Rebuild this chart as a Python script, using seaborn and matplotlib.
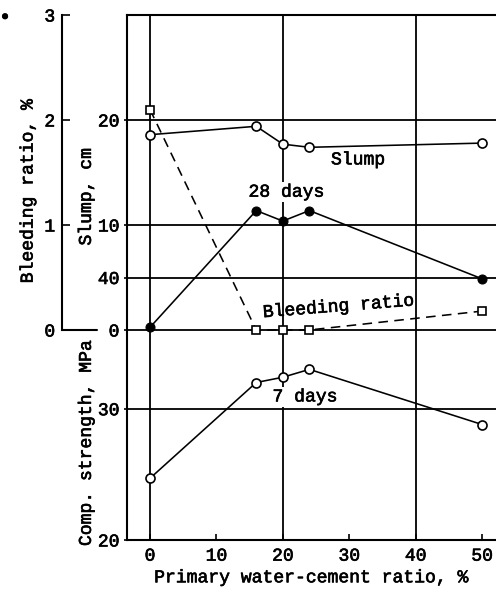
import matplotlib
matplotlib.use("Agg")
import matplotlib.pyplot as plt
import matplotlib.patheffects as pe
import matplotlib.text as mtext
import seaborn as sns
import pandas as pd

# values
ratio = [0, 16, 20, 24, 50]
slump_cm = [18.6, 19.4, 17.7, 17.4, 17.8]
bleeding_pct = [2.1, 0.0, 0.0, 0.0, 0.18]
strength_28d = [36.2, 45.1, 44.3, 45.1, 39.9]
strength_7d = [24.7, 32.0, 32.4, 33.0, 28.8]

x_ticks = [0, 10, 20, 30, 40, 50]
x_grid = [0, 20, 40]
strength_ticks = [20, 30, 40]
strength_grid = [30, 40]
slump_ticks = [0, 10, 20]
bleeding_ticks = [0, 1, 2, 3]

df = pd.DataFrame({
    "ratio": ratio,
    "slump": slump_cm,
    "bleeding": bleeding_pct,
    "s28": strength_28d,
    "s7": strength_7d,
})

sns.set_theme(style="white")
plt.rcParams["font.family"] = ["Liberation Mono", "DejaVu Sans Mono"]
fs = 13
plt.rcParams.update({"font.size": fs, "axes.labelsize": fs,
                     "xtick.labelsize": fs, "ytick.labelsize": fs})

fig = plt.figure(figsize=(4.96, 5.90), dpi=100)
ax = fig.add_axes([127 / 496, 50 / 590, 369 / 496, 525 / 590])
ax_s = ax.twinx()
ax_b = ax.twinx()

line_kw = dict(color="black", linewidth=1.15, legend=False)
open_o = dict(marker="o", markersize=6.5, markerfacecolor="white",
              markeredgecolor="black", markeredgewidth=1.2)

# strength (main axis)
sns.lineplot(data=df, x="ratio", y="s28", ax=ax, marker="o", markersize=6.5,
             markerfacecolor="black", markeredgecolor="black", zorder=4, **line_kw)
sns.lineplot(data=df, x="ratio", y="s7", ax=ax, zorder=4, **open_o, **line_kw)
# slump
sns.lineplot(data=df, x="ratio", y="slump", ax=ax_s, zorder=4, **open_o, **line_kw)
# bleeding
sns.lineplot(data=df, x="ratio", y="bleeding", ax=ax_b, marker="s", markersize=5.5,
             markerfacecolor="white", markeredgecolor="black", markeredgewidth=1.2,
             linestyle=(0, (6, 4)), zorder=4, **line_kw)

ax.set_xlim(-3.46, 52.1)
ax.set_ylim(20, 60)
ax_s.set_ylim(-20, 30)
ax_b.set_ylim(-2, 3)

# grid lines
for xv in x_grid:
    ax.axvline(xv, color="black", linewidth=1.3, zorder=1)
for yv in strength_grid:
    ax.axhline(yv, color="black", linewidth=1.3, zorder=1)
for yv in slump_ticks:
    ax_s.axhline(yv, color="black", linewidth=1.3, zorder=1)

# spines
for a in (ax, ax_s, ax_b):
    a.spines["right"].set_visible(False)
for side in ("top", "bottom", "left"):
    ax_s.spines[side].set_visible(False)
    if side != "left":
        ax_b.spines[side].set_visible(False)
for side in ("top", "bottom", "left"):
    ax.spines[side].set_color("black")
    ax.spines[side].set_linewidth(1.5)

# x axis
ax.set_xticks(x_ticks)
ax.tick_params(axis="x", direction="in", length=4, width=1.2, pad=5.5,
               colors="black", bottom=True, top=False)
ax.set_xlabel("Primary water-cement ratio, %", color="black")
ax.xaxis.set_label_coords(0.496, -0.072)
ax.xaxis.label.set_va("center")

# strength axis
ax.set_yticks(strength_ticks)
ax.tick_params(axis="y", direction="out", length=2.5, width=1.2, pad=3,
               colors="black", left=True)
ax.set_ylabel("Comp. strength, MPa", color="black")
ax.yaxis.set_label_coords(-0.11, 0.183)
ax.yaxis.label.set_va("center")

# slump axis, ticks on the left side of the main frame
ax_s.yaxis.set_ticks_position("left")
ax_s.yaxis.set_label_position("left")
ax_s.set_yticks(slump_ticks)
ax_s.tick_params(axis="y", direction="out", length=2.5, width=1.2, pad=3,
                 colors="black", left=True, right=False)
ax_s.set_ylabel("Slump, cm", color="black")
ax_s.yaxis.set_label_coords(-0.11, 0.653)
ax_s.yaxis.label.set_va("center")

# bleeding axis, detached to the left
ax_b.yaxis.set_ticks_position("left")
ax_b.yaxis.set_label_position("left")
ax_b.spines["left"].set_position(("axes", -0.176))
ax_b.spines["left"].set_bounds(0, 3)
ax_b.spines["left"].set_color("black")
ax_b.spines["left"].set_linewidth(1.5)
ax_b.set_yticks(bleeding_ticks)
ax_b.tick_params(axis="y", direction="in", length=6, width=1.2, pad=5,
                 colors="black", left=True, right=False)
ax_b.axhline(0, xmin=-0.176, xmax=-0.081, color="black", linewidth=1.5, clip_on=False)
ax_b.set_ylabel("Bleeding ratio, %", color="black")
ax_b.yaxis.set_label_coords(-0.268, 0.663)
ax_b.yaxis.label.set_va("center")

# in-plot labels (the day labels blank out the grid line behind them)
white_box = dict(facecolor="white", edgecolor="none", pad=1.0)
ax_s.text(31.3, 16.2, "Slump", ha="center", va="center", color="black")
ax.text(20.5, 46.5, "28 days", ha="center", va="center", color="black",
        bbox=white_box)
ax_b.text(28.3, 0.22, "Bleeding ratio", ha="center", va="center", rotation=4.5,
          color="black")
ax.text(23.3, 30.9, "7 days", ha="center", va="center", color="black",
        bbox=white_box)

fig.text(5 / 496, 1 - 18 / 590, "•", ha="center", va="center", fontsize=14,
         color="black", family="DejaVu Sans")

# thicken the thin typewriter strokes a little, like the scan
fig.canvas.draw()
for t in fig.findobj(mtext.Text):
    if t.get_text():
        t.set_path_effects([pe.withStroke(linewidth=0.45, foreground="black")])

fig.savefig("out.png", dpi=100, facecolor="white")
